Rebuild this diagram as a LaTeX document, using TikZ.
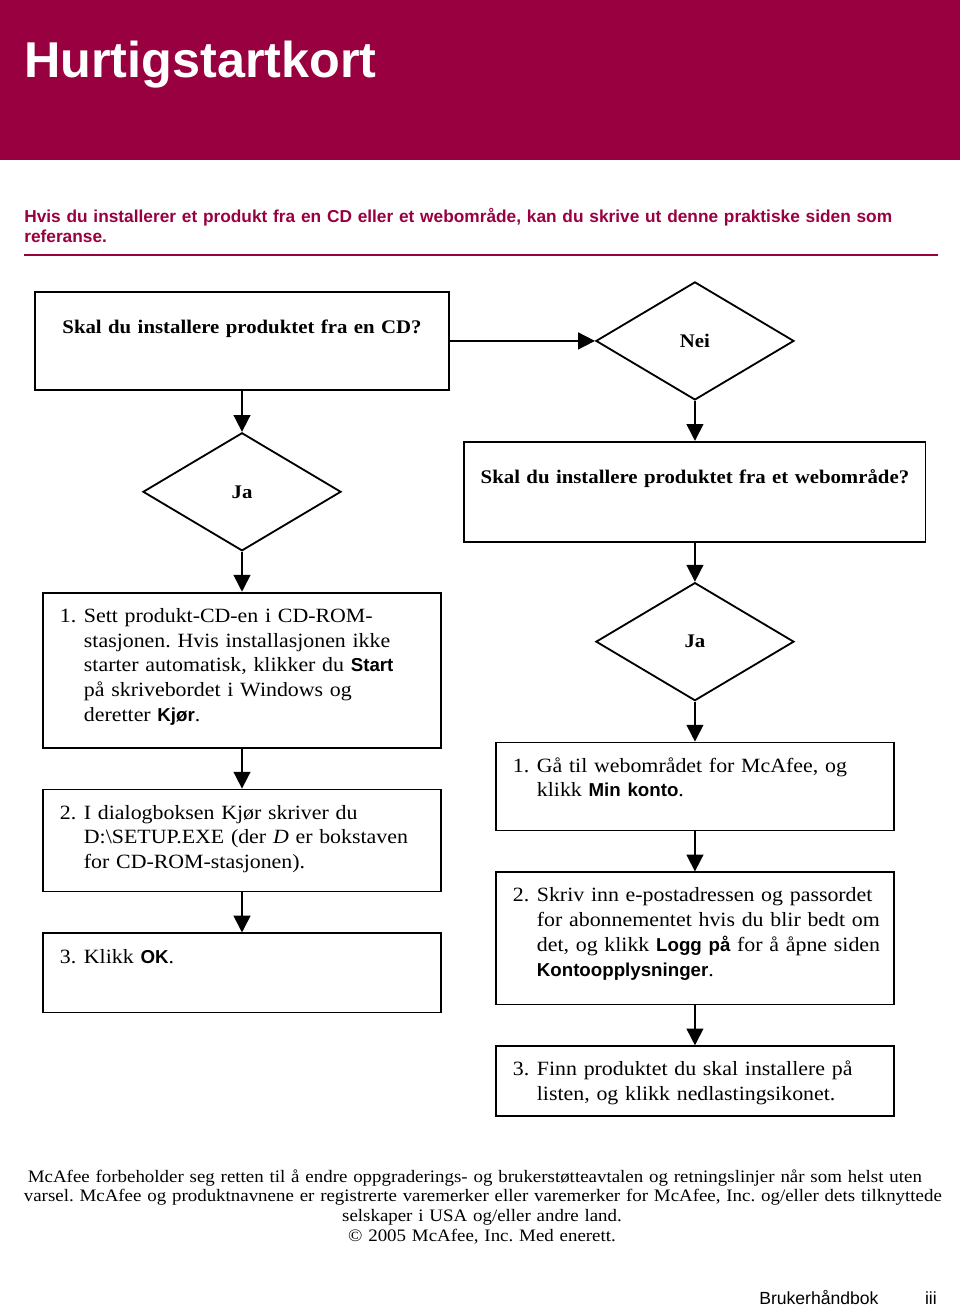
\documentclass[tikz,border=0pt]{standalone}
\usepackage{fontspec}
\setmainfont{Liberation Serif}[FakeStretch=1.08]
\setsansfont{Liberation Sans}
\usetikzlibrary{arrows.meta, positioning, shapes.geometric}
\definecolor{mcred}{RGB}{153,0,64}
\frenchspacing
\newcommand{\ui}[1]{{\sffamily\bfseries\fontsize{13.3}{17.6}\selectfont #1}}
\newcommand{\stepitem}[2]{\makebox[0.6cm][l]{#1}\begin{tabular}[t]{@{}l@{}}#2\end{tabular}}

\begin{document}
\begin{tikzpicture}[x=0.025cm, y=-0.025cm, node distance=1.0cm, >={Triangle[length=0.42cm, width=0.42cm]}]
      \tikzstyle{questionBox} = [rectangle, draw=black, line width=1.3pt, inner sep=0, align=center, text height=1.05cm, font=\bfseries\fontsize{13.7}{16}\selectfont]
      \tikzstyle{stepBox} = [rectangle, draw=black, line width=1.3pt, inner xsep=0.425cm, inner ysep=0, text width=9.1cm, align=left, text height=0.74cm, font=\fontsize{14.4}{17.6}\selectfont]
      \tikzstyle{choiceNode} = [diamond, draw=black, line width=1.3pt, inner sep=0, minimum width=4.95cm, minimum height=2.95cm, font=\bfseries\fontsize{13.7}{16}\selectfont]
      \tikzstyle{myLine} = [draw=black, line width=1.2pt]

      \useasboundingbox (0,0) rectangle (960,1307);

      % Kopf
      \fill[mcred] (0,0) rectangle (960,160);
      \node [anchor=base west, inner sep=0, text=white, font=\sffamily\bfseries\fontsize{35.8}{40}\selectfont] (title) at (24,78) {Hurtigstartkort};
      \node [anchor=base west, inner sep=0, text width=23cm, align=left, text=mcred, font=\sffamily\bfseries\fontsize{12.3}{14.5}\selectfont] (intro) at (24,222) {Hvis du installerer et produkt fra en CD eller et webområde, kan du skrive ut denne praktiske siden som\\referanse.};
      \draw [mcred, line width=0.8pt] (24,255) -- (938,255);

      % CD
      \node at (242,291) [questionBox, anchor=north, text width=10.35cm, text depth=1.4cm] (cdq) {Skal du installere produktet fra en CD?};
      \node [choiceNode, below=1.025cm of cdq] (jacd) {Ja};
      \node [stepBox, text depth=3.135cm, below=of jacd] (cd1) {\stepitem{1.}{Sett produkt-CD-en i CD-ROM-\\stasjonen. Hvis installasjonen ikke\\starter automatisk, klikker du \ui{Start}\\på skrivebordet i Windows og\\deretter \ui{Kjør}.}};
      \node [stepBox, text depth=1.81cm, below=of cd1] (cd2) {\stepitem{2.}{I dialogboksen Kjør skriver du\\D:\textbackslash SETUP.EXE (der \emph{D} er bokstaven\\for CD-ROM-stasjonen).}};
      \node [stepBox, text depth=1.235cm, below=of cd2] (cd3) {\stepitem{3.}{Klikk \ui{OK}.}};

      % Webomraade
      \node [choiceNode, right=3.625cm of cdq] (nei) {Nei};
      \node [questionBox, text width=11.525cm, text depth=1.45cm, below=of nei] (webq) {Skal du installere produktet fra et webområde?};
      \node [choiceNode, below=0.975cm of webq] (jaweb) {Ja};
      \node [stepBox, text depth=1.46cm, below=of jaweb] (web1) {\stepitem{1.}{Gå til webområdet for McAfee, og\\klikk \ui{Min konto}.}};
      \node [stepBox, text depth=2.56cm, below=of web1] (web2) {\stepitem{2.}{Skriv inn e-postadressen og passordet\\for abonnementet hvis du blir bedt om\\det, og klikk \ui{Logg på} for å åpne siden\\\ui{Kontoopplysninger}.}};
      \node [stepBox, text depth=1.01cm, below=of web2] (web3) {\stepitem{3.}{Finn produktet du skal installere på\\listen, og klikk nedlastingsikonet.}};

      \draw [myLine, ->] (cdq.east) -- (nei);
      \draw [myLine, ->] (cdq) -- (jacd);
      \draw [myLine, ->] (jacd) -- (cd1);
      \draw [myLine, ->] (cd1) -- (cd2);
      \draw [myLine, ->] (cd2) -- (cd3);
      \draw [myLine, ->] (nei) -- (webq);
      \draw [myLine, ->] (webq) -- (jaweb);
      \draw [myLine, ->] (jaweb) -- (web1);
      \draw [myLine, ->] (web1) -- (web2);
      \draw [myLine, ->] (web2) -- (web3);

      % Fuss
      \node [anchor=base, inner sep=0, text width=23.8cm, align=center, font=\fontsize{12.45}{14.2}\selectfont] (legal) at (482,1182) {\makebox[22.7cm][s]{McAfee forbeholder seg retten til å endre oppgraderings- og brukerstøtteavtalen og retningslinjer når som helst uten}\\\makebox[22.9cm][s]{varsel. McAfee og produktnavnene er registrerte varemerker eller varemerker for McAfee, Inc. og/eller dets tilknyttede}\\selskaper i USA og/eller andre land.\\\textcopyright{} 2005 McAfee, Inc. Med enerett.};
      \node [anchor=base west, inner sep=0, font=\sffamily\fontsize{12.5}{14}\selectfont] (guide) at (759,1304) {Brukerhåndbok};
      \node [anchor=base east, inner sep=0, font=\sffamily\fontsize{12.5}{14}\selectfont] (pageno) at (937,1304) {iii};

    \end{tikzpicture}
\end{document}
